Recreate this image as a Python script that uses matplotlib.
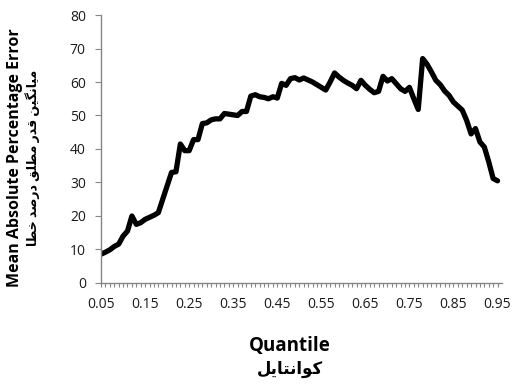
import numpy as np
import matplotlib
matplotlib.use('Agg')
import matplotlib.pyplot as plt

plt.rcParams['font.family'] = ['Open Sans', 'DejaVu Sans']

# quantile categories 0.05 ... 0.95
quantiles = np.round(np.arange(5, 96) / 100, 2)
mape = [8.6, 9.2, 9.9, 10.9, 11.6, 14.0, 15.5, 20.0, 17.5, 18.0,
        19.0, 19.6, 20.2, 21.0, 25.0, 29.0, 33.0, 33.2, 41.5, 39.5,
        39.5, 42.8, 42.8, 47.6, 47.8, 48.7, 49.0, 49.0, 50.6, 50.4,
        50.2, 50.0, 51.2, 51.2, 55.8, 56.2, 55.6, 55.4, 55.0, 55.6,
        55.2, 59.6, 59.0, 61.0, 61.3, 60.6, 61.2, 60.6, 60.0, 59.2,
        58.4, 57.6, 60.0, 62.7, 61.5, 60.5, 59.7, 59.0, 58.0, 60.5,
        59.0, 57.8, 56.8, 57.2, 61.7, 60.3, 61.0, 59.5, 58.0, 57.2,
        58.4, 55.0, 51.8, 67.0, 65.3, 63.0, 60.5, 59.2, 57.3, 56.0,
        54.0, 52.8, 51.6, 48.5, 44.5, 46.1, 42.1, 40.6, 36.2, 31.2,
        30.5]
y_ticks = [0, 10, 20, 30, 40, 50, 60, 70, 80]

ylabel_en = 'Mean Absolute Percentage Error'
ylabel_fa = 'میانگین قدر مطلق درصد خطا'
xlabel_en = 'Quantile'
xlabel_fa = 'کوانتایل'

# minimal Persian shaping (matplotlib has no bidi / joining support)
FORMS = {
    'ا': ('\uFE8D', '\uFE8E'),
    'د': ('\uFEA9', '\uFEAA'),
    'ر': ('\uFEAD', '\uFEAE'),
    'و': ('\uFEED', '\uFEEE'),
    'ت': ('\uFE95', '\uFE96', '\uFE97', '\uFE98'),
    'خ': ('\uFEA5', '\uFEA6', '\uFEA7', '\uFEA8'),
    'ص': ('\uFEB9', '\uFEBA', '\uFEBB', '\uFEBC'),
    'ط': ('\uFEC1', '\uFEC2', '\uFEC3', '\uFEC4'),
    'ق': ('\uFED5', '\uFED6', '\uFED7', '\uFED8'),
    'ل': ('\uFEDD', '\uFEDE', '\uFEDF', '\uFEE0'),
    'م': ('\uFEE1', '\uFEE2', '\uFEE3', '\uFEE4'),
    'ن': ('\uFEE5', '\uFEE6', '\uFEE7', '\uFEE8'),
    'ک': ('\uFB8E', '\uFB8F', '\uFB90', '\uFB91'),
    'گ': ('\uFB92', '\uFB93', '\uFB94', '\uFB95'),
    'ی': ('\uFBFC', '\uFBFD', '\uFBFE', '\uFBFF'),
}


def shape_fa(text):
    out = []
    for i, ch in enumerate(text):
        f = FORMS.get(ch)
        if f is None:
            out.append(ch)
            continue
        prev = text[i - 1] if i > 0 else ''
        nxt = text[i + 1] if i + 1 < len(text) else ''
        jp = prev in FORMS and len(FORMS[prev]) == 4
        jn = len(f) == 4 and nxt in FORMS
        out.append(f[{(False, False): 0, (True, False): 1,
                      (False, True): 2, (True, True): 3}[(jp, jn)]])
    return ''.join(reversed(out))


fig = plt.figure(figsize=(5.13, 3.85), dpi=100)
ax = fig.add_axes([0.197, 0.265, 0.781, 0.696])

ax.plot(quantiles, mape, color='black', lw=3.8, solid_joinstyle='round',
        solid_capstyle='round')

ax.set_ylim(0, 80)
ax.set_yticks(y_ticks)
ax.set_xlim(0.05, 0.9595)
ax.set_xticks(quantiles)
ax.set_xticklabels(['%.2f' % q if i % 10 == 0 else ''
                    for i, q in enumerate(quantiles)])

for s in ['top', 'right']:
    ax.spines[s].set_visible(False)
for s in ['left', 'bottom']:
    ax.spines[s].set_color('#868686')
    ax.spines[s].set_linewidth(1.0)
ax.tick_params(axis='both', direction='out', width=0.8,
               color='#868686', labelsize=10, labelcolor='#1a1a1a')
ax.tick_params(axis='y', length=4, pad=7)
ax.tick_params(axis='x', length=3, pad=7)

fig.text(0.029, 0.59, ylabel_en, rotation=90, ha='center', va='center',
         fontsize=11.5, fontweight='bold')
fig.text(0.064, 0.59, shape_fa(ylabel_fa), rotation=90, ha='center',
         va='center', fontsize=9, fontweight='bold')
fig.text(0.565, 0.101, xlabel_en, ha='center', va='center',
         fontsize=13.5, fontweight='bold')
fig.text(0.565, 0.042, shape_fa(xlabel_fa), ha='center', va='center',
         fontsize=12, fontweight='bold')

fig.savefig('out.png', dpi=100)
